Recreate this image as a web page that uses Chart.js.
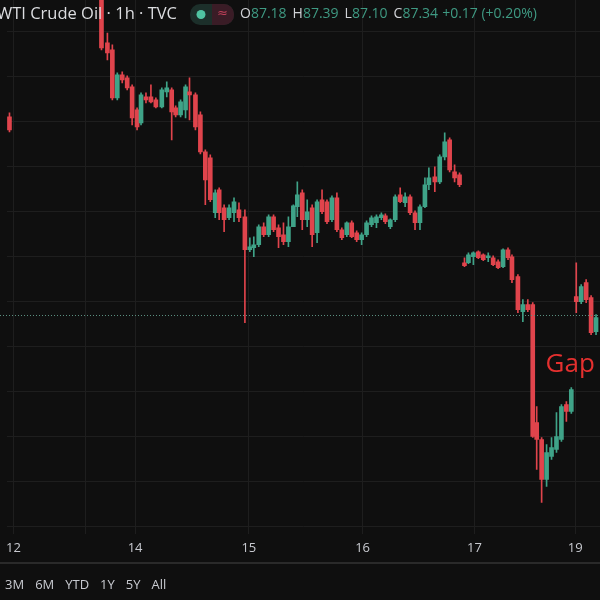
<!DOCTYPE html>
<html><head><meta charset="utf-8">
<script src="https://cdn.jsdelivr.net/npm/chart.js@4"></script>
<style>html,body{margin:0;padding:0;background:#0f0f0f;}#w{width:600px;height:600px;position:relative}</style>
</head><body><div id="w"><canvas id="c"></canvas></div>
<script>
// [time slot (hour index), open, high, low, close]
const candles = [
[0.6,89.43,89.47,89.28,89.30],[19.2,90.60,90.62,90.10,90.12],[20.4,90.17,90.27,90.00,90.07],[21.4,90.10,90.15,89.60,89.62],
[22.4,89.62,89.87,89.60,89.85],[23.4,89.85,89.88,89.77,89.80],[24.4,89.82,89.84,89.70,89.72],[25.4,89.73,89.75,89.35,89.42],
[26.4,89.50,89.52,89.30,89.33],[27.2,89.37,89.67,89.35,89.65],[28.2,89.63,89.67,89.57,89.60],[29.2,89.63,89.75,89.57,89.58],
[30.2,89.60,89.62,89.52,89.53],[31.4,89.53,89.72,89.52,89.70],[32.4,89.68,89.78,89.63,89.72],[33.4,89.70,89.72,89.20,89.48],
[34.2,89.52,89.54,89.43,89.45],[35.2,89.45,89.60,89.43,89.58],[36.2,89.50,89.75,89.42,89.73],[37,89.68,89.82,89.40,89.65],
[38.2,89.65,89.67,89.30,89.33],[39.2,89.45,89.48,89.06,89.08],[40.2,89.08,89.10,88.55,88.80],[41.2,89.02,89.05,88.58,88.60],
[42.2,88.47,88.70,88.42,88.67],[43,88.70,88.72,88.40,88.47],[44,88.52,88.55,88.28,88.40],[45,88.42,88.55,88.40,88.52],
[46,88.47,88.62,88.38,88.58],[47,88.50,88.57,88.38,88.42],[48.2,88.43,88.50,87.37,88.10],[49.2,88.10,88.22,88.08,88.13],
[50,88.12,88.23,88.03,88.15],[51,88.15,88.35,88.13,88.33],[52,88.33,88.37,88.23,88.25],[53,88.25,88.45,88.23,88.43],
[54,88.43,88.45,88.28,88.30],[55,88.32,88.35,88.12,88.23],[56,88.25,88.37,88.15,88.18],[57,88.18,88.43,88.13,88.33],
[58,88.33,88.55,88.33,88.54],[58.8,88.53,88.78,88.43,88.65],[59.8,88.67,88.70,88.30,88.40],[60.8,88.40,88.60,88.33,88.48],
[61.8,88.52,88.55,88.13,88.25],[62.8,88.27,88.60,88.17,88.58],[63.8,88.60,88.70,88.46,88.48],[64.8,88.58,88.60,88.36,88.38],
[65.8,88.40,88.64,88.38,88.62],[66.8,88.62,88.67,88.28,88.30],[67.8,88.30,88.32,88.20,88.22],[68.8,88.25,88.38,88.23,88.37],
[69.8,88.37,88.39,88.22,88.23],[70.8,88.27,88.29,88.18,88.20],[71.8,88.20,88.27,88.15,88.25],[72.8,88.25,88.39,88.23,88.37],
[73.8,88.35,88.44,88.33,88.42],[74.8,88.37,88.45,88.32,88.43],[75.8,88.42,88.47,88.40,88.45],[76.6,88.44,88.46,88.36,88.38],
[77.6,88.33,88.41,88.31,88.40],[78.6,88.40,88.65,88.38,88.63],[79.6,88.65,88.72,88.57,88.58],[80.6,88.57,88.67,88.53,88.63],
[81.6,88.63,88.65,88.45,88.47],[82.6,88.47,88.49,88.30,88.37],[83.6,88.37,88.55,88.30,88.53],[84.6,88.53,88.82,88.52,88.75],
[85.4,88.75,88.92,88.70,88.82],[86.6,88.83,88.93,88.68,88.78],[87.6,88.78,89.05,88.76,89.03],[88.6,89.03,89.27,89.00,89.18],
[89.6,89.20,89.22,88.88,88.90],[90.6,88.88,88.95,88.78,88.82],[91.6,88.85,88.87,88.73,88.75],
[92.6,87.97,88.02,87.93,87.94],[93.4,87.97,88.07,87.96,88.05],[94.4,88.03,88.08,87.95,88.07],[95.4,88.08,88.09,88.01,88.02],
[96.4,88.05,88.06,87.99,88.00],[97.4,88.02,88.07,87.98,88.03],[98.4,88.02,88.04,87.94,87.95],[99.4,87.98,88.00,87.91,87.92],
[100.4,87.93,88.11,87.92,88.10],[101.4,88.10,88.12,88.00,88.02],[102.2,88.03,88.05,87.77,87.80],[103.4,87.83,87.85,87.47,87.50],
[104.4,87.48,87.60,87.38,87.55],[105.4,87.55,87.60,87.48,87.50],[106.4,87.55,87.57,86.22,86.23],[107.2,86.37,86.53,85.90,86.20],
[108.2,86.20,86.22,85.57,85.80],[109.2,85.80,86.15,85.73,86.07],[110.2,86.03,86.22,86.00,86.12],[111.2,86.10,86.47,86.07,86.23],
[112.2,86.20,86.55,86.18,86.53],[113.2,86.55,86.58,86.38,86.48],[114.2,86.48,86.72,86.46,86.70],
[115.2,87.63,87.97,87.47,87.58],[116.2,87.58,87.75,87.56,87.73],[117.2,87.77,87.80,87.57,87.60],[118.2,87.62,87.64,87.25,87.27],
[119.2,87.28,87.45,87.25,87.42]
];
const dayTickSlots = [1.4, 16, 26, 49, 72, 94.6, 115];
const dayTickLabels = ['12', '', '14', '15', '16', '17', '19'];
const gridPrices = [90.28,89.83,89.38,88.93,88.48,88.03,87.58,87.13,86.68,86.23,85.78,85.33];
const lastPrice = 87.45;
const header = {title:'WTI Crude Oil · 1h · TVC', O:'87.18', H:'87.39', L:'87.10', C:'87.34', chg:'+0.17 (+0.20%)'};
const ranges = ['3M','6M','YTD','1Y','5Y','All'];
const annotation = {text:'Gap', slot:109, price:86.95};

const UP='#3fa388', DN='#e0444c';
const col = c => c[4] >= c[1] ? UP : DN;

const overlay = {
  id:'overlay',
  afterDraw(ch){
    const g=ch.ctx, xs=ch.scales.x, ys=ch.scales.y;
    g.save();
    g.strokeStyle='#5a8f80'; g.setLineDash([1,2]); g.lineWidth=1;
    const ly=Math.round(ys.getPixelForValue(lastPrice))+0.5;
    g.beginPath(); g.moveTo(0,ly); g.lineTo(600,ly); g.stroke(); g.setLineDash([]);
    g.fillStyle='#e5302f'; g.font='26px "Open Sans", sans-serif'; g.textBaseline='middle';
    g.fillText(annotation.text, xs.getPixelForValue(annotation.slot), ys.getPixelForValue(annotation.price));
    g.font='16.5px "Open Sans", sans-serif'; g.fillStyle='#dcdde0'; g.textBaseline='middle';
    g.fillText(header.title, -3, 14);
    g.fillStyle='#1c2f2a'; g.beginPath(); g.roundRect(190,4,44,21,10); g.fill();
    g.fillStyle='#3a1c26'; g.beginPath(); g.roundRect(212,4,22,21,[0,10,10,0]); g.fill();
    g.fillStyle='#4fc3a1'; g.beginPath(); g.arc(201,14.5,4.5,0,7); g.fill();
    g.fillStyle='#c0405a'; g.font='13px "DejaVu Sans"'; g.fillText('≈',217,14);
    let x=240; g.font='14px "Open Sans", sans-serif';
    for (const k of ['O','H','L','C']){
      g.fillStyle='#d0d2d6'; g.fillText(k,x,14); x+=g.measureText(k).width;
      g.fillStyle='#3f9a83'; g.fillText(header[k],x,14); x+=g.measureText(header[k]).width+6;
    }
    g.fillStyle='#3f9a83'; g.fillText(header.chg,x-2,14);
    g.fillStyle='#2a2a2a'; g.fillRect(0,562,600,2);
    g.fillStyle='#c8cad0'; g.font='13px "Open Sans", sans-serif';
    let rx=5; for(const r of ranges){ g.fillText(r,rx,585); rx+=g.measureText(r).width+11; }
    g.restore();
  }
};
const bg={id:'bg',beforeDraw(ch){const g=ch.ctx;g.save();g.fillStyle='#0f0f0f';g.fillRect(0,0,ch.width,ch.height);g.restore();}};

new Chart(document.getElementById('c'),{
  type:'bar',
  data:{datasets:[
    {label:'wick',data:candles.map(c=>({x:c[0],y:[c[3],c[2]]})),backgroundColor:candles.map(col),barThickness:1,grouped:false,order:2},
    {label:'body',data:candles.map(c=>({x:c[0],y:[c[1],c[4]]})),backgroundColor:candles.map(col),barThickness:4,minBarLength:2,grouped:false,order:1}
  ]},
  options:{
    responsive:true,maintainAspectRatio:false,animation:false,
    layout:{padding:{left:0,right:0,top:0,bottom:38}},
    plugins:{legend:{display:false},tooltip:{enabled:false}},
    scales:{
      x:{type:'linear',min:0,max:120,offset:false,
         afterBuildTicks:s=>{s.ticks=dayTickSlots.map(v=>({value:v}));},
         ticks:{color:'#c8cad0',font:{size:13,family:'Open Sans'},maxRotation:0,autoSkip:false,padding:6,
                callback:(v,i)=>dayTickLabels[i]},
         grid:{color:'#1e1e1e',drawTicks:false,offset:false},border:{display:false}},
      y:{min:85.25,max:90.60,display:true,
         afterBuildTicks:s=>{s.ticks=gridPrices.map(v=>({value:v}));},
         afterFit:s=>{s.width=0;},
         ticks:{display:false},grid:{color:'#1e1e1e',drawTicks:false},border:{display:false}}
    }
  },
  plugins:[bg,overlay]
});
</script></body></html>
